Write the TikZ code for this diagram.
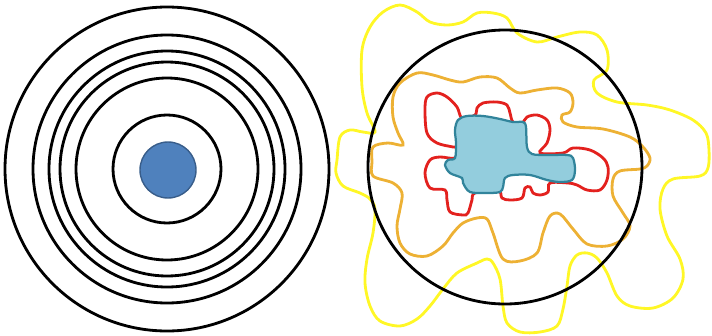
\documentclass[tikz,border=0pt]{standalone}
\usepackage{tikz}

\definecolor{dotblue}{HTML}{4F81BD}
\definecolor{dotedge}{HTML}{385D8A}
\definecolor{coreblue}{HTML}{93CDDD}
\definecolor{coreedge}{HTML}{31849B}
\definecolor{ringyellow}{HTML}{FFF726}
\definecolor{ringorange}{HTML}{EDB134}
\definecolor{ringred}{HTML}{E3211E}

\begin{document}
\begin{tikzpicture}[
  x=0.025cm, y=-0.025cm,
  ring/.style={draw=black, line width=2pt},
  blob/.style={line width=2pt, smooth cycle, tension=0.55},
  yellowline/.style={blob, draw=ringyellow},
  orangeline/.style={blob, draw=ringorange},
  redline/.style={blob, draw=ringred},
  core/.style={blob, draw=coreedge, fill=coreblue, line width=1.6pt}
]
\useasboundingbox (0,0) rectangle (712,336);

% Left: concentric rings
\coordinate (L) at (167,169);
\foreach \r in {162,134,118,107,91,54}
  \draw[ring] (L) circle[radius=\r];
\fill[dotblue, draw=dotedge, line width=1pt] (168,170) circle[radius=28];

% Right: irregular contours
\coordinate (R) at (505,167);

% Yellow
\draw[yellowline] plot coordinates {
  (375,132) (367,113) (362,87) (362,50) (370,27) (383,12) (400,5)
  (417,12) (430,22) (447,25) (463,22) (477,13) (493,13) (507,18)
  (517,33) (537,42) (557,37) (580,32) (597,35) (607,50) (607,70)
  (594,80) (597,93) (617,102) (647,105) (670,110) (693,120) (706,133)
  (709,150) (708,168) (700,176) (673,179) (663,189) (660,209) (667,236)
  (680,259) (683,279) (673,298) (653,308) (630,306) (617,296) (607,273)
  (597,258) (587,253) (577,255) (570,266) (567,286) (563,309) (557,326)
  (540,332) (520,332) (507,323) (503,306) (500,279) (493,263) (487,259)
  (477,263) (457,273) (443,289) (430,306) (417,319) (400,326) (380,321)
  (370,306) (365,283) (367,259) (373,233) (375,209) (370,199) (360,193)
  (343,186) (336,173) (337,160) (340,137) (350,130) (363,132)};

% Orange
\draw[orangeline] plot coordinates {
  (373,147) (388,143) (403,145) (398,133) (393,117) (393,97) (400,83)
  (417,73) (433,75) (450,80) (463,82) (480,77) (497,78) (510,88)
  (520,93) (537,90) (557,88) (570,93) (573,103) (570,112) (562,115)
  (563,122) (577,127) (603,129) (630,137) (643,147) (650,158) (647,166)
  (640,169) (620,171) (613,179) (613,196) (623,213) (630,226) (623,239)
  (607,246) (587,244) (573,229) (560,214) (550,216) (543,233) (537,253)
  (520,261) (503,259) (493,233) (487,219) (477,218) (463,223) (453,233)
  (443,246) (427,256) (410,254) (400,243) (397,226) (400,209) (402,193)
  (393,183) (373,176) (372,162)};

% Red
\draw[redline] plot coordinates {
  (427,97) (437,93) (447,97) (457,107) (462,118) (475,115) (477,108)
  (483,103) (497,102) (507,105) (510,113) (513,122) (522,123) (527,117)
  (537,115) (547,120) (550,130) (547,143) (540,153) (563,153) (573,148)
  (590,150) (603,158) (608,167) (607,180) (600,190) (587,190) (577,185)
  (568,183) (550,183) (548,192) (540,195) (533,193) (530,187) (525,188)
  (522,198) (510,200) (502,198) (498,190) (475,193) (472,200) (468,213)
  (463,215) (450,212) (447,200) (445,190) (430,188) (425,173) (430,160)
  (440,157) (455,158) (457,148) (453,147) (437,143) (427,133) (425,110)};

% Blue core
\draw[core] plot coordinates {
  (458,120) (467,116) (483,116) (500,119) (513,122) (523,122) (526,127)
  (527,147) (532,154) (547,155) (567,155) (573,158) (575,170) (572,180)
  (560,182) (547,180) (530,175) (513,175) (505,178) (503,187) (500,192)
  (487,193) (470,192) (463,183) (462,178) (450,173) (445,165) (448,160)
  (455,158) (456,143) (455,130)};

% Black circle
\draw[ring] (R) circle[radius=137];

\end{tikzpicture}
\end{document}
